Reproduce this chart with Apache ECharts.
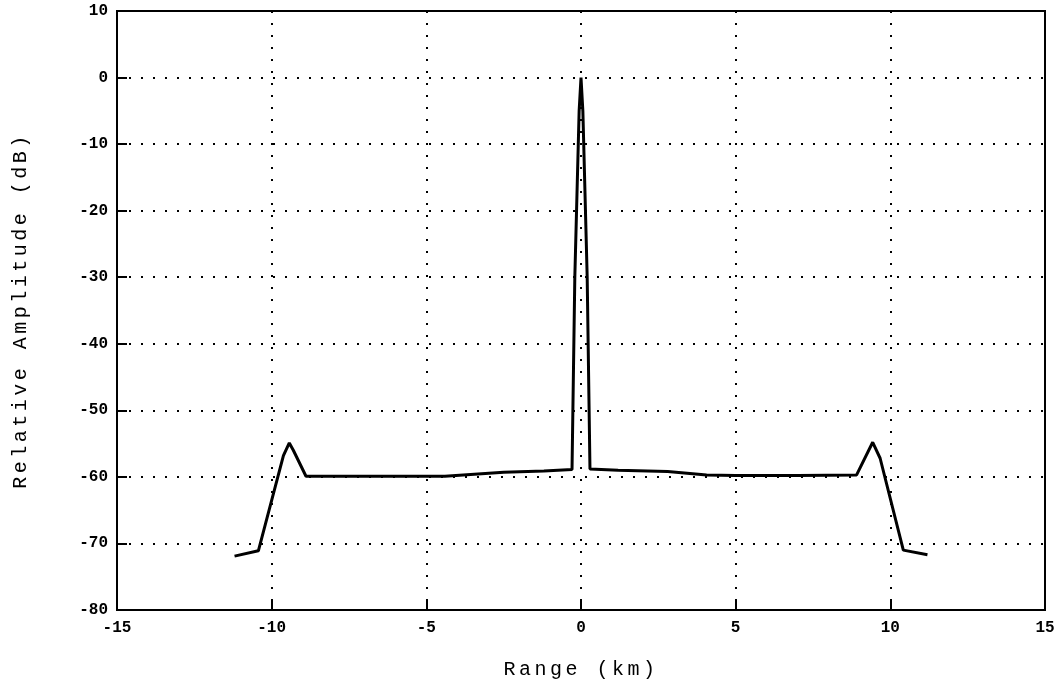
<!DOCTYPE html>
<html><head><meta charset="utf-8">
<script src="https://cdn.jsdelivr.net/npm/echarts@6/dist/echarts.min.js"></script>
<style>
html,body{margin:0;padding:0;background:#fff}
#c{width:1064px;height:688px}
</style>
</head><body><div id="c"></div>
<script>
const rangeKm = [-11.2,-10.43,-9.62,-9.43,-9.3,-8.89,-6.0,-4.4,-2.5,-1.2,-0.29,-0.2,-0.06,0,0.06,0.2,0.29,1.2,2.8,4.06,5.0,7.0,8.91,9.43,9.67,10.42,11.2];
const amplitudeDb = [-71.9,-71.1,-56.8,-54.9,-56.0,-59.9,-59.9,-59.9,-59.3,-59.1,-58.9,-30,-5,0,-5,-30,-58.8,-59.0,-59.2,-59.7,-59.8,-59.8,-59.7,-54.8,-57.2,-71.0,-71.7];
const xTitle = 'Range (km)';
const yTitle = 'Relative Amplitude (dB)';
const mono = '"Liberation Mono","DejaVu Sans Mono",monospace';

(function(){
  const P = CanvasRenderingContext2D.prototype, orig = P.fillText;
  P.fillText = function(t,x,y,m){
    if('letterSpacing' in this) this.letterSpacing = /(^|\s)20px/.test(this.font) ? '3.5px' : '0px';
    return m===undefined ? orig.call(this,t,x,y) : orig.call(this,t,x,y,m);
  };
})();

const chart = echarts.init(document.getElementById('c'));
const dotted = {color:'#000', width:2, type:[2,10]};
const tickLabel = {fontFamily:mono,fontSize:16,fontWeight:'bold',color:'#000'};
const tick = {show:true,inside:true,length:10,lineStyle:{color:'#000',width:2,type:'solid'}};
chart.setOption({
  animation:false,
  backgroundColor:'#fff',
  grid:{left:117,right:19,top:11,bottom:78,show:true,borderColor:'#000',borderWidth:2,backgroundColor:'transparent'},
  xAxis:{type:'value',min:-15,max:15,interval:5,
    name:xTitle,nameLocation:'middle',nameGap:50,
    nameTextStyle:{fontFamily:mono,fontSize:20,color:'#000'},
    axisLine:{show:true,onZero:false,lineStyle:{color:'#000',width:2}},
    axisTick:tick,
    axisLabel:Object.assign({margin:10},tickLabel),
    splitLine:{show:true,lineStyle:dotted}},
  yAxis:{type:'value',min:-80,max:10,interval:10,
    name:yTitle,nameLocation:'middle',nameGap:86,nameRotate:90,
    nameTextStyle:{fontFamily:mono,fontSize:20,color:'#000'},
    axisLine:{show:true,onZero:false,lineStyle:{color:'#000',width:2}},
    axisTick:tick,
    axisLabel:Object.assign({margin:9},tickLabel),
    splitLine:{show:true,lineStyle:dotted}},
  series:[{type:'line',data:rangeKm.map((x,i)=>[x,amplitudeDb[i]]),showSymbol:false,
    lineStyle:{color:'#000',width:3},z:5}]
});
</script></body></html>
